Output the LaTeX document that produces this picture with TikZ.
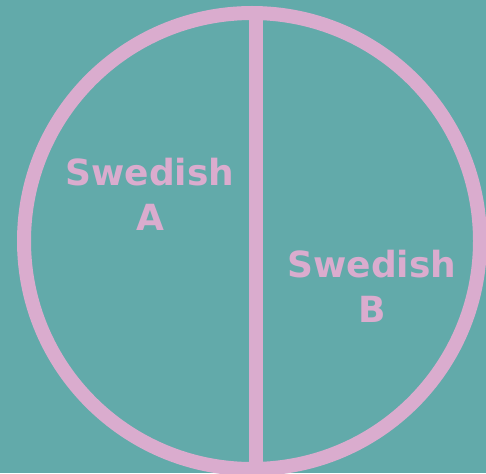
\documentclass[tikz,border=0pt]{standalone}
\usepackage{fontspec}
\setmainfont{DejaVu Sans}
\definecolor{bgteal}{RGB}{98,170,170}
\definecolor{ringpink}{RGB}{218,172,206}
\tikzset{
  ring/.style={circle, draw=ringpink, line width=14pt, minimum size=456pt, inner sep=0pt, outer sep=0pt},
  divider/.style={draw=ringpink, line width=14pt},
  label/.style={text=ringpink, font=\bfseries\fontsize{36}{45}\selectfont, align=center, inner sep=0pt, anchor=north}
}
\begin{document}
\begin{tikzpicture}[x=1pt,y=-1pt]
  \useasboundingbox (0,0) rectangle (486,473);
  \clip (0,0) rectangle (486,473);
  \fill[bgteal] (0,0) rectangle (486,473);
  \node[ring] (ring) at (252,241) {};
  \coordinate (top) at (256,12);
  \coordinate (bot) at (256,470);
  \draw[divider] (top) -- (bot);
  \node[label] (sa) at (150,157.5) {Swedish\\A};
  \node[label] (sb) at (372,249.5) {Swedish\\B};
\end{tikzpicture}
\end{document}
